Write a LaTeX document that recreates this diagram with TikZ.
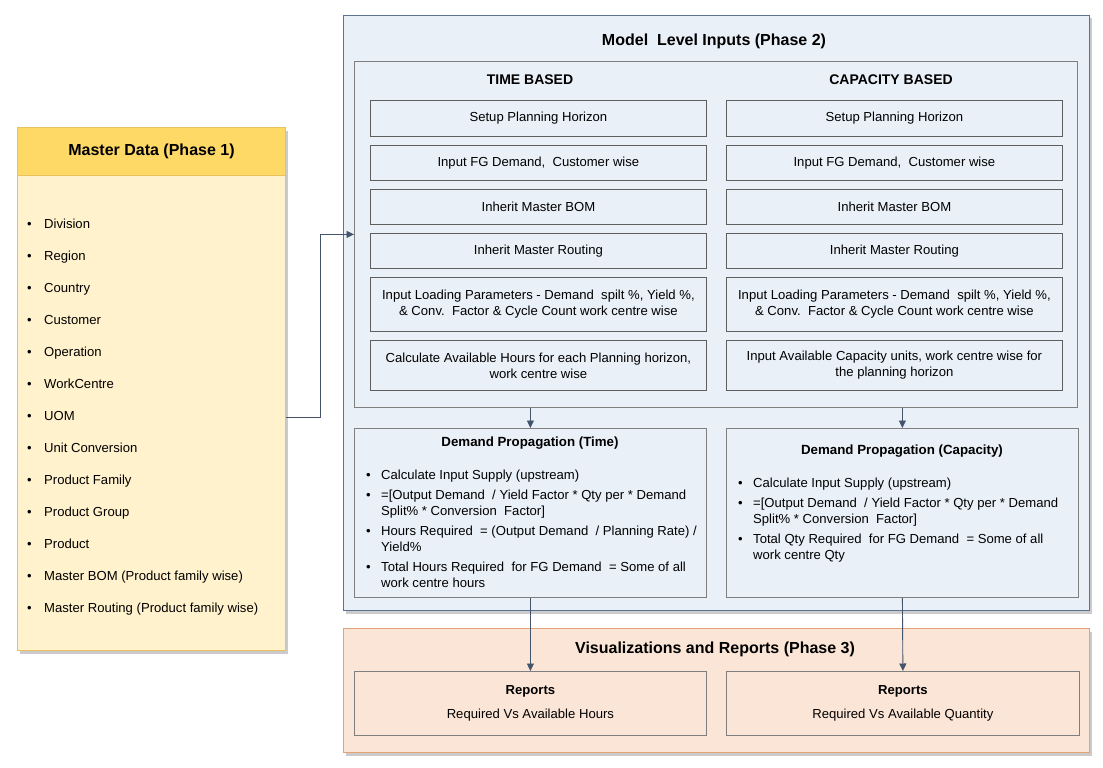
\documentclass[tikz,border=0pt]{standalone}
\usepackage{fontspec}
\setmainfont{Liberation Sans}
\usetikzlibrary{shadows,arrows.meta}
\definecolor{mdhead}{HTML}{FFD966}
\definecolor{mdbody}{HTML}{FFF2CC}
\definecolor{mdline}{HTML}{E6C35C}
\definecolor{bluefill}{HTML}{EAF0F8}
\definecolor{blueline}{HTML}{5B7391}
\definecolor{innerline}{HTML}{7F7F7F}
\definecolor{boxline}{HTML}{5F5F5F}
\definecolor{peachfill}{HTML}{FBE5D6}
\definecolor{peachline}{HTML}{E3A278}
\definecolor{arrowc}{HTML}{44546A}
\tikzset{
  shad/.style={drop shadow={shadow xshift=2pt,shadow yshift=-3pt,fill=black!45,opacity=0.45}},
  panel/.style={anchor=north west,inner sep=0pt,line width=1pt},
  cell/.style 2 args={draw=boxline,anchor=north west,minimum width=#1,minimum height=#2,align=center,inner sep=0pt,line width=0.8pt},
  mditem/.style={anchor=west,inner sep=0pt},
  bul/.style={anchor=north west,inner sep=0pt},
  ttl/.style={font=\fontsize{16}{19}\selectfont\bfseries},
  sub/.style={font=\fontsize{14}{17}\selectfont\bfseries},
  dptitle/.style={font=\fontsize{13.3}{16}\selectfont\bfseries},
  arr/.style={draw=arrowc,line width=0.9pt,-{Triangle[length=7.5pt,width=7pt]}},
}
\newcommand{\bitem}[1]{\strut\makebox[15pt][l]{•}\parbox[t]{320pt}{\raggedright\strut #1}}
\begin{document}
\begin{tikzpicture}[x=1pt,y=-1pt,font=\fontsize{13.1}{16}\selectfont]
\useasboundingbox (0,0) rectangle (1103,768);
\fill[white] (0,0) rectangle (1103,768);

% ---------- Master data (Phase 1)
\node[panel,draw=mdline,fill=mdbody,minimum width=268pt,minimum height=523pt,shad] (master) at (17,127) {};
\node[panel,draw=mdline,fill=mdhead,minimum width=268pt,minimum height=48pt,ttl] (mdtitle) at (17,127) {Master Data (Phase 1)};
\foreach \t [count=\i] in {Division,Region,Country,Customer,Operation,WorkCentre,UOM,Unit Conversion,Product Family,Product Group,Product,Master BOM (Product family wise),Master Routing (Product family wise)}
  \node[mditem] (md\i) at (27,{225+32*(\i-1)}) {\strut\makebox[17pt][l]{•}\t};

% ---------- Phase 2
\node[panel,draw=blueline,fill=bluefill,minimum width=746pt,minimum height=595pt,shad] (p2) at (343,15) {};
\node[ttl] (p2t) at (714,41) {Model\ \ Level Inputs (Phase 2)};
\node[panel,draw=innerline,minimum width=723pt,minimum height=346pt,line width=0.8pt] (inner) at (354,61) {};
\node[sub] (tb) at (530,80) {TIME BASED};
\node[sub] (cb) at (891,80) {CAPACITY BASED};

% time column
\node[cell={336pt}{36pt}] (t1) at (370,100) {Setup Planning Horizon};
\node[cell={336pt}{35pt}] (t2) at (370,145) {Input FG Demand,\ \ Customer wise};
\node[cell={336pt}{35pt}] (t3) at (370,189) {Inherit Master BOM};
\node[cell={336pt}{35pt}] (t4) at (370,233) {Inherit Master Routing};
\node[cell={336pt}{54pt}] (t5) at (370,277) {Input Loading Parameters - Demand\ \ spilt \%, Yield \%,\\\& Conv.\ \ Factor \& Cycle Count work centre wise};
\node[cell={336pt}{50pt}] (t6) at (370,340) {Calculate Available Hours for each Planning horizon,\\work centre wise};
% capacity column
\node[cell={336pt}{36pt}] (c1) at (726,100) {Setup Planning Horizon};
\node[cell={336pt}{35pt}] (c2) at (726,145) {Input FG Demand,\ \ Customer wise};
\node[cell={336pt}{35pt}] (c3) at (726,189) {Inherit Master BOM};
\node[cell={336pt}{35pt}] (c4) at (726,233) {Inherit Master Routing};
\node[cell={336pt}{54pt}] (c5) at (726,277) {Input Loading Parameters - Demand\ \ spilt \%, Yield \%,\\\& Conv.\ \ Factor \& Cycle Count work centre wise};
\node[cell={336pt}{50pt}] (c6) at (726,340) {Input Available Capacity units, work centre wise for\\the planning horizon};

% demand propagation
\node[cell={352pt}{169pt},draw=innerline,fill=bluefill] (dpt) at (354,428) {};
\node[cell={352pt}{169pt},draw=innerline,fill=bluefill] (dpc) at (726,428) {};
\node[dptitle] (dptt) at (530,443) {Demand Propagation (Time)};
\node[dptitle] (dpct) at (902,451) {Demand Propagation (Capacity)};

\node[bul] (dt1) at (366,468.5) {\bitem{Calculate\ Input\ Supply (upstream)}};
\node[bul] (dt2) at (366,488.5) {\bitem{=[Output Demand\ \ / Yield Factor * Qty per * Demand\\Split\% * Conversion\ \ Factor]}};
\node[bul] (dt3) at (366,524.5) {\bitem{Hours Required\ \ = (Output Demand\ \ / Planning Rate) /\\Yield\%}};
\node[bul] (dt4) at (366,560.5) {\bitem{Total Hours Required\ \ for FG Demand\ \ = Some of all\\work centre hours}};

\node[bul] (dc1) at (738,476.5) {\bitem{Calculate\ Input\ Supply (upstream)}};
\node[bul] (dc2) at (738,496.5) {\bitem{=[Output Demand\ \ / Yield Factor * Qty per * Demand\\Split\% * Conversion\ \ Factor]}};
\node[bul] (dc3) at (738,532.5) {\bitem{Total Qty Required\ \ for FG Demand\ \ = Some of all\\work centre Qty}};

% ---------- Phase 3
\node[panel,draw=peachline,fill=peachfill,minimum width=746pt,minimum height=124pt,shad] (p3) at (343,628) {};
\node[font=\fontsize{16}{19}\selectfont\bfseries] (p3t) at (715,649) {Visualizations and Reports (Phase 3)};
\node[cell={352pt}{64pt},draw=innerline] (r1) at (354,671) {\textbf{Reports}\\[8pt]Required Vs Available Hours};
\node[cell={353pt}{64pt},draw=innerline] (r2) at (726,671) {\textbf{Reports}\\[8pt]Required Vs Available Quantity};

% ---------- connectors
\draw[arr] (master.east |- md7) -- ++(34,0) |- (inner.west);
\draw[arr] (inner.south -| dpt.north) -- (dpt.north);
\draw[arr] (inner.south -| dpc.north) -- (dpc.north);
\draw[arr] (dpt.south) -- (r1.north);
\draw[arr] (dpc.south) -- (r2.north);
\end{tikzpicture}
\end{document}
